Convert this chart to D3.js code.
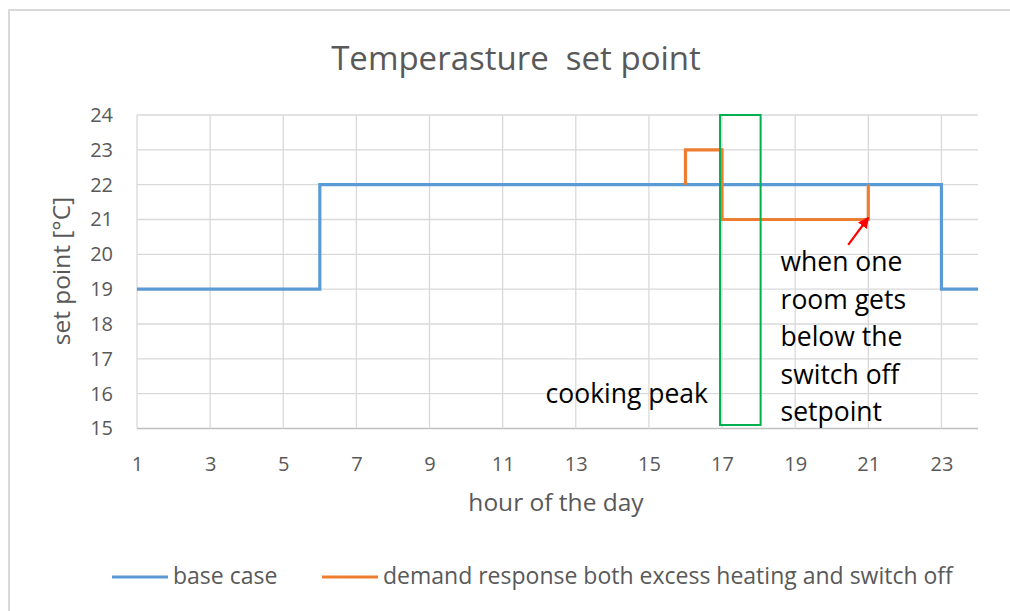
<!DOCTYPE html>
<html>
<head>
<meta charset="utf-8">
<script src="https://cdn.jsdelivr.net/npm/d3@7/dist/d3.min.js"></script>
<style>
  body { margin: 0; background: #fff; }
  svg { display: block; font-family: "Open Sans", Lato, sans-serif; }
</style>
</head>
<body>
<svg id="chart" width="1010" height="611"></svg>
<script>
// hourly set point, base case (step after)
var hours = d3.range(1, 25);
var baseCase = [19, 19, 19, 19, 19, 22, 22, 22, 22, 22, 22, 22, 22, 22, 22, 22, 22, 22, 22, 22, 22, 22, 19, 19];
// demand response: step vertices
var drHours  = [16, 16, 17, 17, 21, 21];
var drValues = [22, 23, 23, 21, 21, 22];
var xTicks = [1, 3, 5, 7, 9, 11, 13, 15, 17, 19, 21, 23];
var yTicks = [15, 16, 17, 18, 19, 20, 21, 22, 23, 24];
var seriesNames = ["base case", "demand response both excess heating and switch off"];
var seriesColors = ["#5B9BD5", "#ED7D31"];
var peakWindow = [17, 18];  // cooking peak highlight
var noteLines = ["when one", "room gets", "below the", "switch off", "setpoint"];

var svg = d3.select("#chart");
var margin = {left: 137, right: 32, top: 115, bottom: 183};
var W = 1010, H = 611;

var x = d3.scaleLinear().domain([1, 24]).range([margin.left, W - margin.right]);
var y = d3.scaleLinear().domain([15, 24]).range([H - margin.bottom + 0.5, margin.top]);

// outer chart border
svg.append("rect").attr("x", 9).attr("y", 10).attr("width", 1010).attr("height", 620)
    .attr("fill", "none").attr("stroke", "#d9d9d9").attr("stroke-width", 2);

// gridlines
svg.append("g").selectAll("line").data(yTicks).enter().append("line")
    .attr("x1", x(1)).attr("x2", x(24))
    .attr("y1", function (d) { return y(d); }).attr("y2", function (d) { return y(d); })
    .attr("stroke", function (d) { return d === 15 ? "#bfbfbf" : "#d9d9d9"; })
    .attr("stroke-width", 1.3);
svg.append("g").selectAll("line").data(xTicks).enter().append("line")
    .attr("x1", function (d) { return x(d); }).attr("x2", function (d) { return x(d); })
    .attr("y1", y(15)).attr("y2", y(24))
    .attr("stroke", "#d9d9d9").attr("stroke-width", 1.3);

// axes (labels only)
var xAxis = svg.append("g").attr("transform", "translate(0," + (y(15) + 25) + ")")
    .call(d3.axisBottom(x).tickValues(xTicks).tickSize(0).tickFormat(d3.format("d")));
var yAxis = svg.append("g").attr("transform", "translate(" + (x(1) - 21) + ",0)")
    .call(d3.axisLeft(y).tickValues(yTicks).tickSize(0).tickFormat(d3.format("d")));
[xAxis, yAxis].forEach(function (a) {
    a.select(".domain").remove();
    a.selectAll("text").attr("fill", "#595959").style("font-size", "20px")
        .style("font-family", "'Open Sans', Lato, sans-serif");
});
xAxis.selectAll("text").attr("dy", "0.71em");

// series
var baseLine = d3.line().x(function (d, i) { return x(hours[i]); }).y(function (d) { return y(d); })
    .curve(d3.curveStepAfter);
svg.append("path").datum(baseCase).attr("d", baseLine)
    .attr("fill", "none").attr("stroke", seriesColors[0]).attr("stroke-width", 3.2);

var drLine = d3.line().x(function (d, i) { return x(drHours[i]); }).y(function (d) { return y(d); });
svg.append("path").datum(drValues).attr("d", drLine)
    .attr("fill", "none").attr("stroke", seriesColors[1]).attr("stroke-width", 3.2);

// cooking peak box
svg.append("rect")
    .attr("x", x(peakWindow[0]) - 2).attr("y", y(24))
    .attr("width", x(peakWindow[1]) - x(peakWindow[0]) + 4).attr("height", y(15.1) - y(24))
    .attr("fill", "none").attr("stroke", "#00B050").attr("stroke-width", 2);

// arrow
svg.append("defs").append("marker").attr("id", "arrow")
    .attr("viewBox", "0 0 10 10").attr("refX", 9).attr("refY", 5)
    .attr("markerWidth", 5).attr("markerHeight", 5).attr("orient", "auto")
    .append("path").attr("d", "M0,0 L10,5 L0,10 z").attr("fill", "#ff0000");
svg.append("line")
    .attr("x1", x(20.45)).attr("y1", y(20.27))
    .attr("x2", x(21)).attr("y2", y(21.05))
    .attr("stroke", "#ff0000").attr("stroke-width", 2.2).attr("marker-end", "url(#arrow)");

// annotations
svg.append("text").attr("x", x(17) - 14).attr("y", y(15.72)).attr("text-anchor", "end")
    .attr("fill", "#000").style("font-size", "26.5px").text("cooking peak");
svg.append("g").selectAll("text").data(noteLines).enter().append("text")
    .attr("x", x(18.6)).attr("y", function (d, i) { return 271 + i * 37.5; })
    .attr("fill", "#000").style("font-size", "26.5px").text(function (d) { return d; });

// titles
svg.append("text").attr("x", 516).attr("y", 70).attr("text-anchor", "middle")
    .attr("fill", "#595959").style("font-size", "33px").style("white-space", "pre")
    .text("Temperasture  set point");
svg.append("text").attr("x", 556).attr("y", 511).attr("text-anchor", "middle")
    .attr("fill", "#595959").style("font-size", "24.5px").text("hour of the day");
svg.append("text").attr("transform", "translate(70,271) rotate(-90)").attr("text-anchor", "middle")
    .attr("fill", "#595959").style("font-size", "24.5px").text("set point [°C]");

// legend
var legendX = [112, 322];
var legend = svg.append("g").selectAll("g").data(seriesNames).enter().append("g")
    .attr("transform", function (d, i) { return "translate(" + legendX[i] + ",577)"; });
legend.append("line").attr("x1", 0).attr("x2", 56).attr("y1", 0).attr("y2", 0)
    .attr("stroke", function (d, i) { return seriesColors[i]; }).attr("stroke-width", 3.2);
legend.append("text").attr("x", 61).attr("y", 7).attr("fill", "#595959")
    .style("font-size", "23px").text(function (d) { return d; });
</script>
</body>
</html>
